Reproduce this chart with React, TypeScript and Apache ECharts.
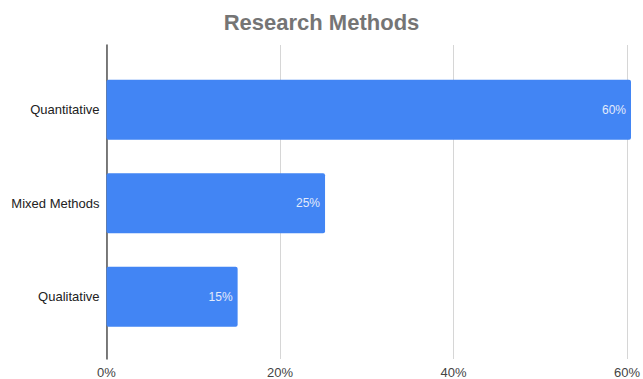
import React, { useEffect, useRef } from "react";
import * as echarts from "echarts";

const categories = ["Quantitative", "Mixed Methods", "Qualitative"];
const shares = [60, 25, 15];
const axisTicks = [0, 20, 40, 60];

export default function App() {
  const ref = useRef<HTMLDivElement>(null);

  useEffect(() => {
    if (!ref.current) return;
    const chart = echarts.init(ref.current, undefined, { renderer: "svg" });
    const font = "Arial, 'Liberation Sans', sans-serif";
    chart.setOption({
      animation: false,
      backgroundColor: "#ffffff",
      title: {
        text: "Research Methods",
        left: "center",
        top: 6,
        textStyle: { color: "#757575", fontSize: 22, fontWeight: "bold", fontFamily: font },
      },
      grid: [
        { left: 106.5, right: 12, top: 45, bottom: 20 },
        { left: 106.5, right: 12, top: 63, bottom: 35.5 },
      ],
      xAxis: [
        {
          gridIndex: 0,
          type: "value",
          min: axisTicks[0],
          max: axisTicks[axisTicks.length - 1],
          interval: axisTicks[1] - axisTicks[0],
          axisLine: { show: false },
          axisTick: { show: false },
          axisLabel: {
            formatter: "{value}%",
            color: "#444",
            fontSize: 13,
            fontFamily: font,
            margin: 7,
          },
          splitLine: { lineStyle: { color: "#d6d6d6", width: 1 } },
        },
        {
          gridIndex: 1,
          type: "value",
          min: axisTicks[0],
          max: axisTicks[axisTicks.length - 1],
          show: false,
        },
      ],
      yAxis: [
        {
          gridIndex: 0,
          type: "value",
          axisLine: { show: true, lineStyle: { color: "#555", width: 1.5 } },
          axisTick: { show: false },
          axisLabel: { show: false },
          splitLine: { show: false },
        },
        {
          gridIndex: 1,
          type: "category",
          inverse: true,
          data: categories,
          axisLine: { show: false },
          axisTick: { show: false },
          axisLabel: { color: "#222", fontSize: 13, fontFamily: font, margin: 7 },
        },
      ],
      series: [
        {
          type: "bar",
          xAxisIndex: 1,
          yAxisIndex: 1,
          data: shares,
          barWidth: 60,
          itemStyle: { color: "#4285F4", borderRadius: 2 },
          label: {
            show: true,
            position: "insideRight",
            distance: 5,
            formatter: "{c}%",
            color: "#e3ebfb",
            fontSize: 12,
            fontFamily: font,
          },
        },
      ],
    });
    return () => chart.dispose();
  }, []);

  return <div ref={ref} style={{ width: 643, height: 379, position: "absolute", left: 0, top: 0 }} />;
}
